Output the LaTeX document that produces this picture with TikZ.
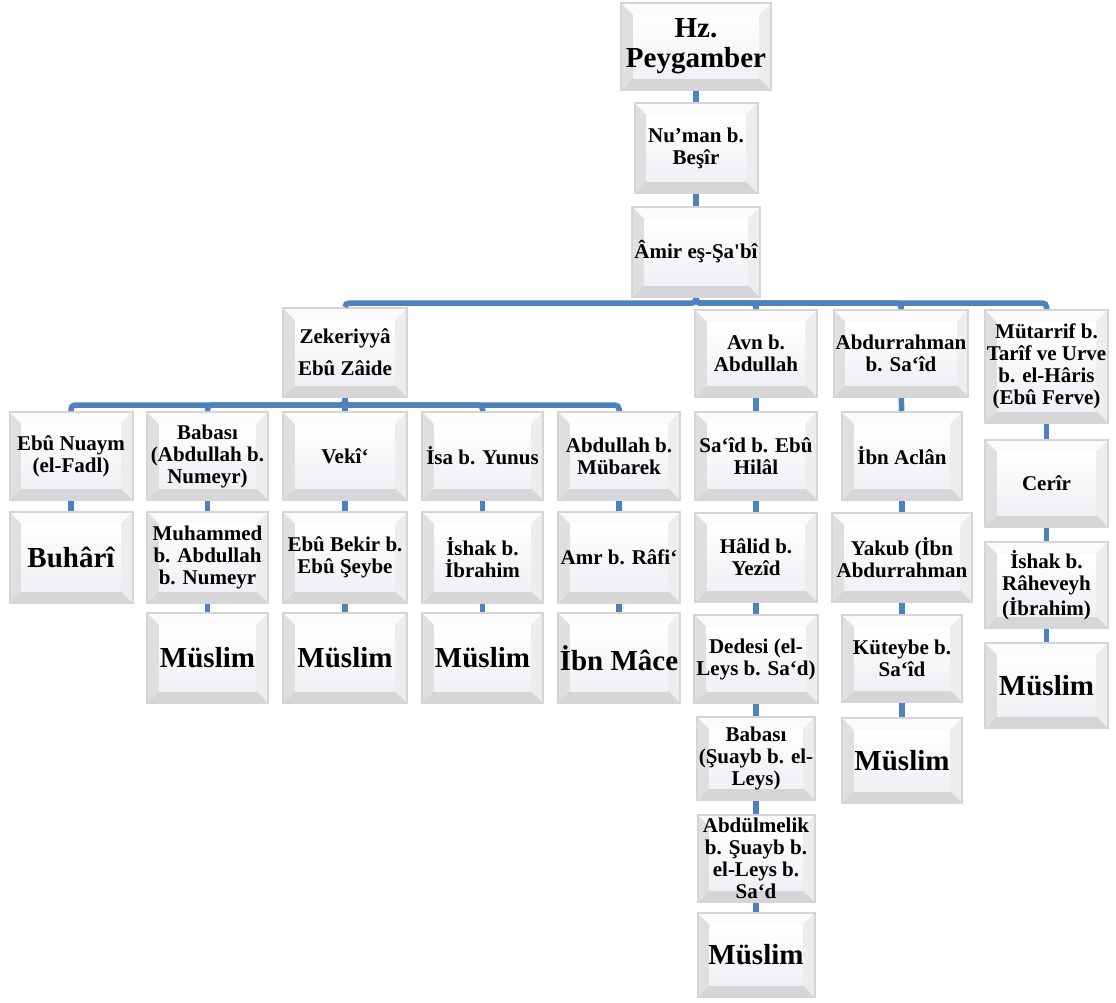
\documentclass[tikz,border=0pt]{standalone}
\usepackage{fontspec}
\setmainfont{Liberation Serif}
\usepackage{tikz}

\definecolor{linkblue}{RGB}{79,129,189}
\definecolor{rimgray}{RGB}{212,212,218}
\definecolor{facegray}{RGB}{240,240,245}
\newcommand{\bevdepth}{6pt}

\tikzset{
  bevel/.style={draw=rimgray, line width=1pt, fill=facegray, inner sep=1pt, align=center,
    minimum width=61.5pt, minimum height=44.5pt,
    font=\fontsize{10.5}{11}\selectfont\bfseries,
    path picture={
      \fill[gray!3] (path picture bounding box.north west) -- (path picture bounding box.north east)
        -- ([xshift=-\bevdepth,yshift=-\bevdepth]path picture bounding box.north east)
        -- ([xshift=\bevdepth,yshift=-\bevdepth]path picture bounding box.north west) -- cycle;
      \fill[gray!14] (path picture bounding box.north east) -- (path picture bounding box.south east)
        -- ([xshift=-\bevdepth,yshift=\bevdepth]path picture bounding box.south east)
        -- ([xshift=-\bevdepth,yshift=-\bevdepth]path picture bounding box.north east) -- cycle;
      \fill[gray!32] (path picture bounding box.south east) -- (path picture bounding box.south west)
        -- ([xshift=\bevdepth,yshift=\bevdepth]path picture bounding box.south west)
        -- ([xshift=-\bevdepth,yshift=\bevdepth]path picture bounding box.south east) -- cycle;
      \fill[gray!25] (path picture bounding box.south west) -- (path picture bounding box.north west)
        -- ([xshift=\bevdepth,yshift=-\bevdepth]path picture bounding box.north west)
        -- ([xshift=\bevdepth,yshift=\bevdepth]path picture bounding box.south west) -- cycle;
      \shade[top color=white, bottom color=facegray]
        ([xshift=\bevdepth,yshift=\bevdepth]path picture bounding box.south west)
        rectangle ([xshift=-\bevdepth,yshift=-\bevdepth]path picture bounding box.north east);
    }},
  big/.style={font=\fontsize{14.5}{15}\selectfont\bfseries},
  conn/.style={draw=linkblue, line width=2.75pt, rounded corners=2pt},
}

\begin{document}
\begin{tikzpicture}[x=0.5pt, y=-0.5pt]
\useasboundingbox (0,0) rectangle (1116,1003);
% top chain
\node[bevel,big,minimum width=75pt,minimum height=43.5pt] (hz) at (696,46.5) {Hz.\\Peygamber};
\node[bevel,minimum height=45pt] (numan) at (696,148) {Nu’man b.\\Beşîr};
\node[bevel,minimum height=45pt] (amir) at (696,252) {Âmir eş-Şa\textquotesingle bî};
\coordinate (bar1) at (696,303);
% second level
\node[bevel,minimum width=62pt] (zek) at (345,352.5) {Zekeriyyâ\\[5pt]Ebû Zâide};
\node[bevel,minimum width=61pt,minimum height=43.5pt] (avn) at (756,353.5) {Avn b.\\Abdullah};
\node[bevel,minimum width=66pt,minimum height=43.5pt] (abdr) at (901,353.5) {Abdurrahman\\b. Sa‘îd};
\node[bevel,minimum height=56.5pt] (mut) at (1046.5,366.5) {Mütarrif b.\\Tarîf ve Urve\\b. el-Hâris\\(Ebû Ferve)};
\coordinate (bar2) at (345,405);
% third level
\node[bevel,minimum height=44pt] (nuaym) at (71,456) {Ebû Nuaym\\(el-Fadl)};
\node[bevel,minimum width=60.5pt,minimum height=44pt] (babasi) at (207.5,456) {Babası\\(Abdullah b.\\Numeyr)};
\node[bevel,minimum width=62pt,minimum height=44pt] (veki) at (345,456) {Vekî‘};
\node[bevel,minimum width=60.5pt,minimum height=44pt] (isa) at (482.5,456) {İsa b. Yunus};
\node[bevel,minimum width=61pt,minimum height=44pt] (mubarek) at (619,456) {Abdullah b.\\Mübarek};
\node[bevel,minimum width=61pt,minimum height=44pt] (said) at (756,456) {Sa‘îd b. Ebû\\Hilâl};
\node[bevel,minimum width=60pt,minimum height=44pt] (aclan) at (902,456) {İbn Aclân};
\node[bevel,minimum height=43.5pt] (cerir) at (1046.5,483.5) {Cerîr};
% fourth level
\node[bevel,big,minimum height=45.5pt] (buhari) at (71,557.5) {Buhârî};
\node[bevel,minimum width=60.5pt,minimum height=45.5pt] (muhammed) at (207.5,557.5) {Muhammed\\b. Abdullah\\b. Numeyr};
\node[bevel,minimum width=62pt,minimum height=45.5pt] (ebubekir) at (345,557.5) {Ebû Bekir b.\\Ebû Şeybe};
\node[bevel,minimum width=60.5pt,minimum height=45.5pt] (ishak) at (482.5,557.5) {İshak b.\\İbrahim};
\node[bevel,minimum width=61pt,minimum height=45.5pt] (amr) at (619,557.5) {Amr b. Râfi‘};
\node[bevel,minimum width=61pt,minimum height=44.5pt] (halid) at (756,557.5) {Hâlid b.\\Yezîd};
\node[bevel,minimum width=70pt,minimum height=44.5pt] (yakub) at (902,557.5) {Yakub (İbn\\Abdurrahman};
\node[bevel,minimum height=43pt] (raheveyh) at (1046.5,585) {İshak b.\\Râheveyh\\(İbrahim)};
% fifth level
\node[bevel,big,minimum width=60.5pt,minimum height=45pt] (muslimb) at (207.5,658) {Müslim};
\node[bevel,big,minimum width=62pt,minimum height=45pt] (muslimv) at (345,658) {Müslim};
\node[bevel,big,minimum width=60.5pt,minimum height=45pt] (muslimi) at (482.5,658) {Müslim};
\node[bevel,big,minimum width=61pt,minimum height=45pt] (ibnmace) at (619,658) {İbn Mâce};
\node[bevel,minimum width=61pt,minimum height=44pt] (dedesi) at (756,659) {Dedesi (el-\\Leys b. Sa‘d)};
\node[bevel,minimum width=60pt,minimum height=43.5pt] (kuteybe) at (902,658.5) {Küteybe b.\\Sa‘îd};
\node[bevel,big,minimum height=42.5pt] (muslimm) at (1046.5,685.5) {Müslim};
% lower chains
\node[bevel,minimum width=58.5pt,minimum height=41.5pt] (suayb) at (756,758.5) {Babası\\(Şuayb b. el-\\Leys)};
\node[bevel,big,minimum width=60pt,minimum height=42.5pt] (muslima) at (902,760.5) {Müslim};
\node[bevel,minimum width=58.5pt,minimum height=43.5pt] (abdulmelik) at (756,858.5) {Abdülmelik\\b. Şuayb b.\\el-Leys b.\\Sa‘d};
\node[bevel,big,minimum width=58.5pt,minimum height=42pt] (muslimn) at (756,955) {Müslim};
% connectors
\draw[conn] (hz) -- (numan);
\draw[conn] (numan) -- (amir);
\draw[conn] (amir.south) -- (bar1) -| (zek.north);
\draw[conn] (amir.south) -- (bar1) -| (avn.north);
\draw[conn] (amir.south) -- (bar1) -| (abdr.north);
\draw[conn] (amir.south) -- (bar1) -| (mut.north);
\draw[conn] (zek.south) -- (bar2) -| (nuaym.north);
\draw[conn] (zek.south) -- (bar2) -| (babasi.north);
\draw[conn] (zek.south) -- (bar2) -| (veki.north);
\draw[conn] (zek.south) -- (bar2) -| (isa.north);
\draw[conn] (zek.south) -- (bar2) -| (mubarek.north);
\draw[conn] (nuaym) -- (buhari);
\draw[conn] (babasi) -- (muhammed);
\draw[conn] (muhammed) -- (muslimb);
\draw[conn] (veki) -- (ebubekir);
\draw[conn] (ebubekir) -- (muslimv);
\draw[conn] (isa) -- (ishak);
\draw[conn] (ishak) -- (muslimi);
\draw[conn] (mubarek) -- (amr);
\draw[conn] (amr) -- (ibnmace);
\draw[conn] (avn) -- (said);
\draw[conn] (said) -- (halid);
\draw[conn] (halid) -- (dedesi);
\draw[conn] (dedesi) -- (suayb);
\draw[conn] (suayb) -- (abdulmelik);
\draw[conn] (abdulmelik) -- (muslimn);
\draw[conn] (abdr) -- (aclan);
\draw[conn] (aclan) -- (yakub);
\draw[conn] (yakub) -- (kuteybe);
\draw[conn] (kuteybe) -- (muslima);
\draw[conn] (mut) -- (cerir);
\draw[conn] (cerir) -- (raheveyh);
\draw[conn] (raheveyh) -- (muslimm);
\end{tikzpicture}
\end{document}
